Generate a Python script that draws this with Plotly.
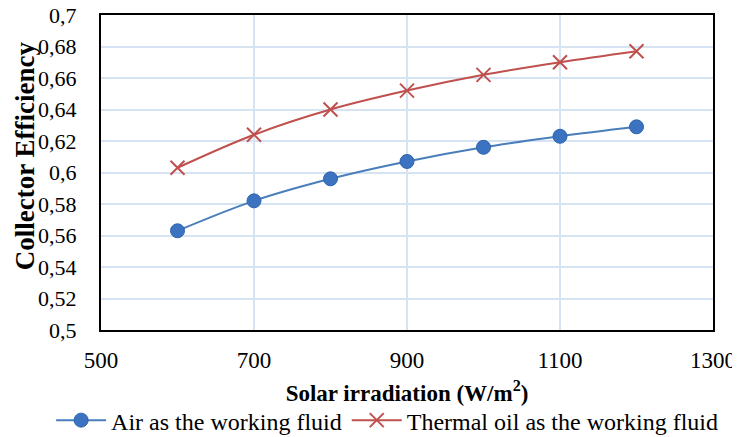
import plotly.graph_objects as go

irradiation = [600, 700, 800, 900, 1000, 1100, 1200]
air_eff = [0.563, 0.582, 0.596, 0.607, 0.616, 0.623, 0.629]
oil_eff = [0.603, 0.624, 0.640, 0.652, 0.662, 0.670, 0.677]

y_ticks = [0.5, 0.52, 0.54, 0.56, 0.58, 0.6, 0.62, 0.64, 0.66, 0.68, 0.7]
y_ticktext = ["0,5", "0,52", "0,54", "0,56", "0,58", "0,6", "0,62", "0,64", "0,66", "0,68", "0,7"]
x_ticks = [500, 700, 900, 1100, 1300]

font_family = "Liberation Serif, Times New Roman, serif"

fig = go.Figure()
fig.add_trace(go.Scatter(
    x=irradiation, y=air_eff, name="Air as the working fluid",
    mode="lines+markers",
    line=dict(color="#4a7ebb", width=2, shape="spline"),
    marker=dict(symbol="circle", size=14, color="#3b73c0", line=dict(color="#2f63ad", width=1)),
))
fig.add_trace(go.Scatter(
    x=irradiation, y=oil_eff, name="Thermal oil as the working fluid",
    mode="lines+markers",
    line=dict(color="#c0504d", width=2, shape="spline"),
    marker=dict(symbol="x-thin", size=14, color="#c0504d", line=dict(color="#c0504d", width=2)),
))

# The page body has an 8px default margin, so the figure is 8px smaller
# and its left/top margins are reduced by 8px to land where the reference is.
fig.update_layout(
    width=732, height=429,
    margin=dict(l=93, r=27, t=7, b=107, autoexpand=False),
    paper_bgcolor="white", plot_bgcolor="white",
    font=dict(family=font_family, size=23, color="black"),
    showlegend=True,
    legend=dict(orientation="h", x=-0.0815, xanchor="left", y=-0.216, yanchor="top",
                font=dict(size=24), itemwidth=50, tracegroupgap=0,
                bgcolor="rgba(0,0,0,0)"),
    annotations=[dict(
        text="<b>Collector Efficiency</b>", textangle=-90,
        xref="paper", yref="paper", x=-0.124, y=0.552,
        xanchor="center", yanchor="middle", showarrow=False,
        font=dict(size=27),
    )],
)
fig.update_xaxes(
    range=[500, 1300], tickvals=x_ticks,
    showgrid=True, gridcolor="#d6e3f3", gridwidth=2,
    showline=True, linecolor="black", linewidth=2, mirror=True,
    ticks="outside", ticklen=8, tickcolor="rgba(0,0,0,0)",
    tickfont=dict(size=23), automargin=False, ticklabeloverflow="allow",
    title=dict(text="<b>Solar irradiation (W/m<sup>2</sup>)</b>", font=dict(size=23), standoff=13),
    zeroline=False,
)
fig.update_yaxes(
    range=[0.5, 0.7], tickvals=y_ticks, ticktext=y_ticktext,
    showgrid=True, gridcolor="#d6e3f3", gridwidth=2,
    showline=True, linecolor="black", linewidth=2, mirror=True,
    ticks="outside", ticklen=18, tickcolor="rgba(0,0,0,0)",
    tickfont=dict(size=22), automargin=False, ticklabeloverflow="allow",
    zeroline=False,
)

fig.write_html("out.html")
